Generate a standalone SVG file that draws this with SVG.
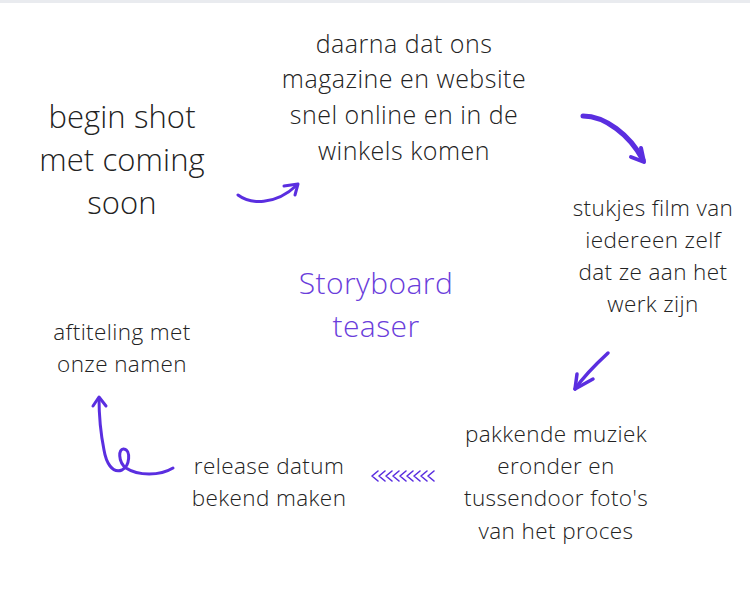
<svg xmlns="http://www.w3.org/2000/svg" width="750" height="600" viewBox="0 0 750 600">
<style>
text{font-family:"Open Sans","Noto Sans","Liberation Sans",sans-serif;font-weight:300;fill:#222;text-anchor:middle}
.t30{font-size:31px;letter-spacing:0.1px}
.t23{font-size:25px;letter-spacing:0.5px}
.t21{font-size:22.5px;letter-spacing:0.4px}
.title{font-size:30px;letter-spacing:0.4px;fill:#6a3ddb}
.arr{fill:none;stroke:#5a2ee0;stroke-linecap:round;stroke-linejoin:round}
</style>
<rect x="0" y="0" width="750" height="600" fill="#ffffff"/>
<rect x="0" y="0" width="750" height="3" fill="#e9ebef"/>
<g id="title">
<text class="title" x="376" y="294">Storyboard</text>
<text class="title" x="376" y="337">teaser</text>
</g>
<g id="node-begin">
<text class="t30" x="122" y="128">begin shot</text>
<text class="t30" x="122" y="171">met coming</text>
<text class="t30" x="122" y="214">soon</text>
</g>
<g id="node-daarna">
<text class="t23" x="404" y="53">daarna dat ons</text>
<text class="t23" x="404" y="88">magazine en website</text>
<text class="t23" x="404" y="124">snel online en in de</text>
<text class="t23" x="404" y="160">winkels komen</text>
</g>
<g id="node-stukjes">
<text class="t21" x="653" y="216">stukjes film van</text>
<text class="t21" x="653" y="248">iedereen zelf</text>
<text class="t21" x="653" y="280">dat ze aan het</text>
<text class="t21" x="653" y="312">werk zijn</text>
</g>
<g id="node-pakkende">
<text class="t21" x="556" y="442">pakkende muziek</text>
<text class="t21" x="556" y="474">eronder en</text>
<text class="t21" x="556" y="506">tussendoor foto's</text>
<text class="t21" x="556" y="539">van het proces</text>
</g>
<g id="node-release">
<text class="t21" x="269" y="474">release datum</text>
<text class="t21" x="269" y="506">bekend maken</text>
</g>
<g id="node-aftiteling">
<text class="t21" x="122" y="340">aftiteling met</text>
<text class="t21" x="122" y="372">onze namen</text>
</g>
<g id="connectors">
<path class="arr" stroke-width="3" d="M238,195 C250,204 275,206 297,185"/>
<path class="arr" stroke-width="3" d="M284,186 L298,184 L295,195"/>
<path class="arr" stroke-width="5" d="M583,116 C605,116 630,135 643,160"/>
<path class="arr" stroke-width="4" d="M631,157 L644,162 L641,148"/>
<path class="arr" stroke-width="3.5" d="M608,353 C595,365 584,376 575,389"/>
<path class="arr" stroke-width="3.5" d="M577,374 L575,389 L593,379"/>
<path class="arr" stroke-width="1.6" d="M378,471 L372,476 L378,481 M385,471 L379,476 L385,481 M392,471 L386,476 L392,481 M399,471 L393,476 L399,481 M406,471 L400,476 L406,481 M413,471 L407,476 L413,481 M420,471 L414,476 L420,481 M427,471 L421,476 L427,481 M434,471 L428,476 L434,481"/>
<path class="arr" stroke-width="3" d="M173,468 C160,476 138,476 126,468 C118,462 118,448 124,449 C131,450 130,466 122,470 C112,474 106,462 104,450 C100,430 99,415 99,398"/>
<path class="arr" stroke-width="3" d="M93,406 L99,397 L106,406"/>
</g>
</svg>
